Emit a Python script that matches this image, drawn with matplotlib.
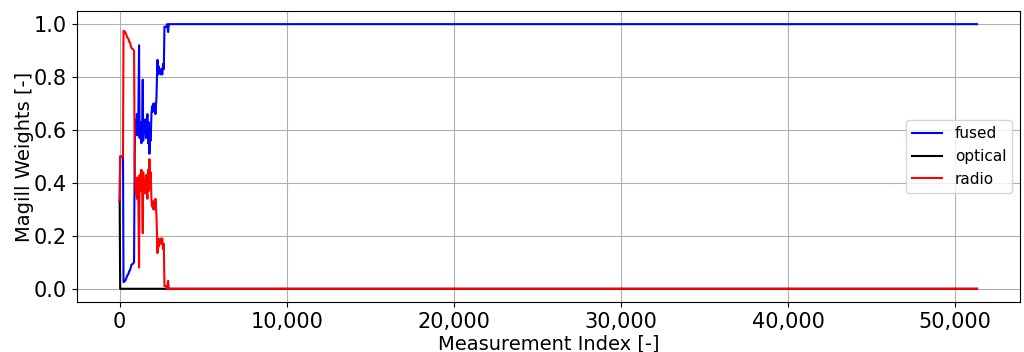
import matplotlib
matplotlib.use("Agg")
import matplotlib.pyplot as plt
from matplotlib.ticker import FuncFormatter

# Measurement indices at which the weights change
idx = [0, 30, 200, 230, 330, 400, 450, 520, 560, 620,
       700, 800, 860, 900, 930, 960, 1000, 1030, 1060, 1090,
       1120, 1160, 1190, 1230, 1270, 1300, 1340, 1380, 1410, 1450,
       1500, 1540, 1580, 1620, 1660, 1700, 1740, 1780, 1820, 1860,
       1900, 1940, 1980, 2020, 2060, 2100, 2140, 2200, 2260, 2300,
       2350, 2400, 2450, 2500, 2550, 2600, 2640, 2680, 2780, 2840,
       2900, 2940, 3000, 51300]

fused = [0.333, 0.5, 0.5, 0.025, 0.03, 0.04, 0.05, 0.055, 0.065, 0.07,
         0.09, 0.095, 0.10, 0.52, 0.60, 0.64, 0.62, 0.66, 0.58, 0.65,
         0.67, 0.92, 0.57, 0.59, 0.63, 0.55, 0.60, 0.79, 0.56, 0.62,
         0.60, 0.64, 0.57, 0.61, 0.66, 0.55, 0.63, 0.51, 0.60, 0.56,
         0.66, 0.69, 0.67, 0.70, 0.67, 0.70, 0.66, 0.72, 0.865, 0.81,
         0.84, 0.82, 0.81, 0.83, 0.81, 0.85, 0.83, 0.99, 0.99, 1.0,
         0.97, 1.0, 1.0, 1.0]

radio = [0.333, 0.5, 0.5, 0.975, 0.97, 0.96, 0.95, 0.945, 0.935, 0.93,
         0.91, 0.905, 0.90, 0.48, 0.40, 0.36, 0.38, 0.34, 0.42, 0.35,
         0.33, 0.08, 0.43, 0.41, 0.37, 0.45, 0.40, 0.21, 0.44, 0.38,
         0.40, 0.36, 0.43, 0.39, 0.34, 0.45, 0.37, 0.49, 0.40, 0.44,
         0.34, 0.31, 0.33, 0.30, 0.33, 0.30, 0.34, 0.28, 0.135, 0.19,
         0.16, 0.18, 0.19, 0.17, 0.19, 0.15, 0.17, 0.01, 0.01, 0.0,
         0.03, 0.0, 0.0, 0.0]

optical_idx = [0, 30, 51300]
optical = [0.333, 0.0, 0.0]

fig = plt.figure(figsize=(10.24, 3.52), dpi=100)
ax = fig.add_axes([0.075, 0.142, 0.921, 0.827])

ax.plot(idx, fused, color="blue", lw=1.5, label="fused")
ax.plot(optical_idx, optical, color="black", lw=1.5, label="optical")
ax.plot(idx, radio, color="red", lw=1.5, label="radio")

ax.grid(True, color="#b0b0b0", lw=0.8)
ax.set_xlabel("Measurement Index [-]", fontsize=14, labelpad=2)
ax.set_ylabel("Magill Weights [-]", fontsize=14, labelpad=0)
ax.tick_params(labelsize=15)
ax.xaxis.set_major_formatter(FuncFormatter(lambda v, p: f"{int(v):,}"))
ax.legend(loc="center right", fontsize=11)

fig.savefig("out.png", dpi=100)
